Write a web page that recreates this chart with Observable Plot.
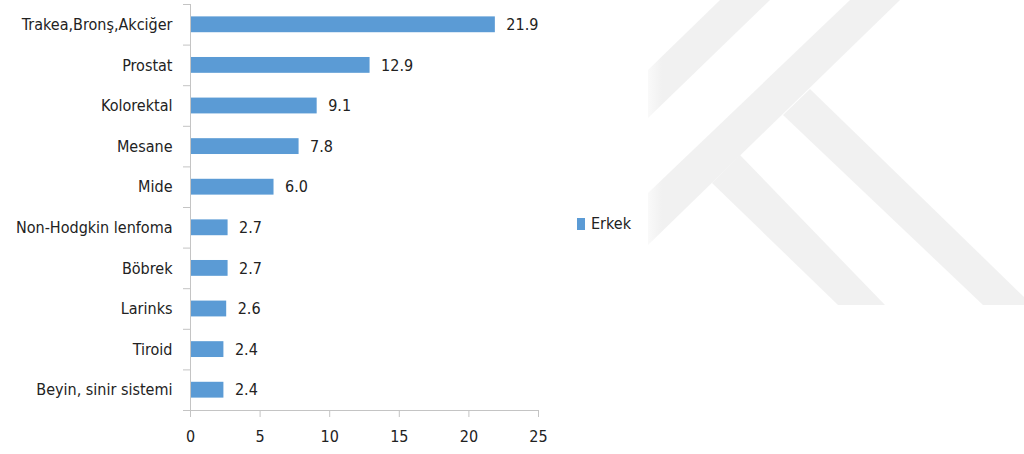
<!DOCTYPE html>
<html>
<head>
<meta charset="utf-8">
<script src="https://cdn.jsdelivr.net/npm/d3@7"></script>
<script src="https://cdn.jsdelivr.net/npm/@observablehq/plot@0.6"></script>
<style>
  body { margin: 0; background: #fff; }
  #wrap { position: relative; width: 1024px; height: 454px; font-family: "DejaVu Sans Condensed", sans-serif; }
  #wm { position: absolute; left: 0; top: 0; }
  #wrap > svg.plot-chart { position: absolute; left: 0; top: 0; }
  #legend { position: absolute; left: 577px; top: 214px; display: flex; align-items: center; font-size: 16px; color: #222; }
  #legend .sw { width: 8px; height: 12px; background: #5B9BD5; margin-right: 6px; }
</style>
</head>
<body>
<div id="wrap">
  <!-- background watermark decoration (not chart data) -->
  <svg id="wm" width="1024" height="454">
    <defs>
      <linearGradient id="fade" x1="648" x2="662" y1="0" y2="0" gradientUnits="userSpaceOnUse">
        <stop offset="0" stop-color="#f1f1f1" stop-opacity="0.4"/>
        <stop offset="1" stop-color="#f1f1f1" stop-opacity="1"/>
      </linearGradient>
    </defs>
    <g fill="url(#fade)">
      <polygon points="648,70 720,0 770,0 648,118"/>
      <polygon points="648,193 850,0 900,0 648,245"/>
      <polygon points="712,183 740,155 885,305 838,305"/>
      <polygon points="783,115 810,89 1024,297 1024,305 983,305"/>
    </g>
  </svg>
</div>
<script>
const categories = ["Trakea,Bronş,Akciğer", "Prostat", "Kolorektal", "Mesane", "Mide",
  "Non-Hodgkin lenfoma", "Böbrek", "Larinks", "Tiroid", "Beyin, sinir sistemi"];
const values = [21.9, 12.9, 9.1, 7.8, 6.0, 2.7, 2.7, 2.6, 2.4, 2.4];
const xTicks = [0, 5, 10, 15, 20, 25];
const seriesName = "Erkek";
const barColor = "#5B9BD5";

const data = categories.map((c, i) => ({cat: c, value: values[i]}));

const W = 1024, H = 454, mt = 4, mb = 44;
const step = (H - mt - mb) / categories.length;
const font = '"DejaVu Sans Condensed", sans-serif';

const chart = Plot.plot({
  width: W,
  height: H,
  marginLeft: 190,
  marginRight: 486,
  marginTop: mt,
  marginBottom: mb,
  style: {fontFamily: font, fontSize: "16px", color: "#222", background: "transparent"},
  x: {domain: [0, 25]},
  y: {domain: categories, paddingInner: 0.61, paddingOuter: 0.305, round: false},
  marks: [
    Plot.barX(data, {x: "value", y: "cat", fill: barColor}),
    Plot.text(data, {x: "value", y: "cat", text: d => d.value.toFixed(1), textAnchor: "start", dx: 11, fill: "#222", fontSize: 16}),
    Plot.ruleX([0], {stroke: "#c4c4c4"}),
    Plot.frame({anchor: "bottom", stroke: "#c4c4c4"}),
    Plot.axisY({tickSize: 0, tickPadding: 18, label: null, fill: "#222", fontSize: 16}),
    Plot.axisY({tickSize: 7, tickFormat: () => "", label: null, stroke: "#c4c4c4", dy: step / 2}),
    Plot.axisY({ticks: [categories[0]], tickSize: 7, tickFormat: () => "", label: null, stroke: "#c4c4c4", dy: -step / 2}),
    Plot.axisX({ticks: xTicks, tickSize: 7, tickPadding: 13, label: null, stroke: "#c4c4c4", fill: "#222", fontSize: 16})
  ]
});

document.getElementById("wrap").appendChild(chart);
const lg = document.createElement("div");
lg.id = "legend";
lg.innerHTML = `<span class="sw"></span><span>${seriesName}</span>`;
document.getElementById("wrap").appendChild(lg);
</script>
</body>
</html>
